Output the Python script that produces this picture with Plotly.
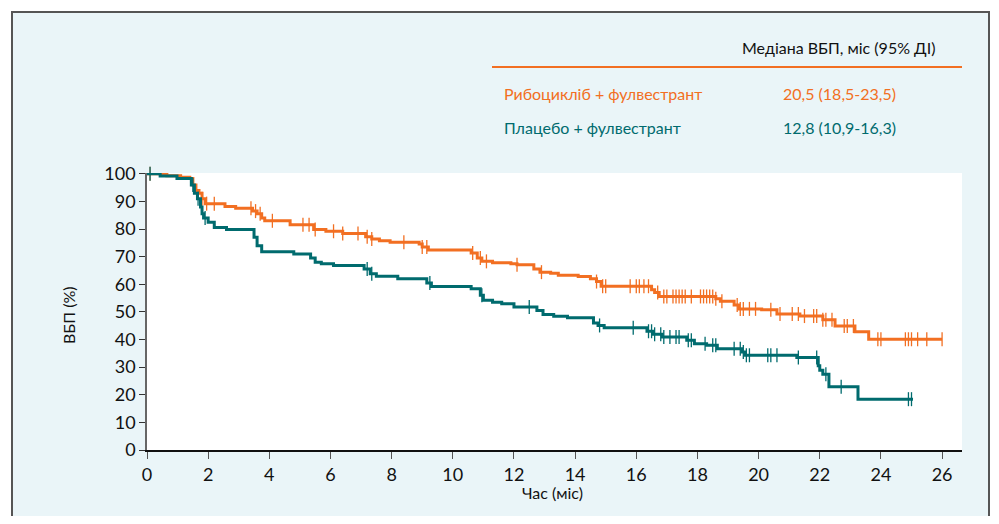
import numpy as np
import plotly.graph_objects as go

# ---------------- data ----------------
ribo_t = [0, 0.65, 1.1, 1.4, 1.5, 1.6, 1.7, 1.8, 1.9, 2.55, 2.9, 3.45, 3.6, 3.75, 3.85,
          4.68, 5.45, 5.85, 6.4, 7.15, 7.35, 7.6, 7.95, 8.9, 9.0, 9.2, 10.6, 10.8, 10.95,
          11.3, 11.9, 12.1, 12.65, 12.85, 13.2, 13.45, 14.1, 14.5, 14.7, 14.85, 16.5, 16.6,
          16.75, 18.6, 18.75, 19.2, 19.35, 20.1, 20.6, 21.35, 22.1, 22.5, 23.15, 23.6, 26.0]
ribo_s = [100, 99.3, 98.8, 98.3, 96, 94, 93, 91, 89.2, 88.2, 87.5, 86.5, 85.5, 84, 83.0,
          81.6, 79.8, 79.2, 78.4, 77.2, 76.4, 75.8, 75.2, 74.6, 73.5, 72.4, 71.3, 69.5, 68.3,
          67.8, 67.4, 67.1, 65.5, 64.4, 64.0, 63.3, 62.8, 62.0, 61.0, 59.3, 58.0, 57.0,
          55.6, 54.8, 53.9, 52.5, 51.1, 50.8, 49.2, 48.5, 47.2, 44.9, 42.8, 40.1, 40.1]
ribo_cens = [0.1, 1.8, 1.95, 2.2, 3.4, 3.55, 3.7, 4.1, 5.1, 5.3, 5.5, 6.1, 6.4, 6.9, 7.2, 7.35,
             8.4, 9.0, 9.15, 10.65, 10.9, 11.1, 12.1, 12.9, 14.7, 14.9, 15.0, 15.8, 16.0,
             16.1, 16.25, 16.4, 16.7, 16.9, 17.0, 17.2, 17.3, 17.4, 17.5, 17.6, 17.8, 18.1,
             18.2, 18.3, 18.4, 18.5, 18.6, 18.8, 19.3, 19.4, 19.5, 19.7, 19.9, 20.4, 20.7,
             21.1, 21.3, 21.5, 21.8, 21.9, 22.1, 22.2, 22.4, 22.8, 22.9, 23.1, 23.9, 24.0,
             24.8, 24.9, 25.0, 25.2, 25.5, 26.0]

plac_t = [0, 0.43, 0.98, 1.45, 1.55, 1.65, 1.75, 1.8, 1.85, 2.0, 2.2, 2.6, 3.5, 3.6, 3.75,
          4.8, 5.35, 5.5, 5.7, 6.1, 7.1, 7.3, 7.5, 8.2, 9.15, 9.3, 10.6, 10.9, 11.0, 11.3,
          11.6, 12.0, 12.75, 12.95, 13.3, 13.75, 14.6, 14.75, 14.95, 16.35, 16.55, 16.85,
          17.65, 17.9, 18.3, 18.65, 19.45, 19.55, 21.25, 21.95, 22.0, 22.1, 22.3, 23.25, 25.05]
plac_s = [100, 99.2, 98.3, 96, 93, 91, 88, 85.5, 84, 82.5, 80.6, 79.8, 77, 74, 71.8,
          71.0, 69.5, 68, 67.4, 66.8, 65.5, 63.8, 62.9, 62.0, 60.5, 59.2, 58.4, 56, 54.2, 53.5,
          53.0, 51.8, 50.5, 49.1, 48.4, 47.9, 46, 45.1, 44.3, 43, 41.9, 40.9,
          39.7, 38.5, 37.9, 36.7, 35.5, 34.3, 33.5, 30.5, 28.9, 27.4, 22.9, 18.4, 18.4]
plac_cens = [0.1, 1.5, 1.67, 1.9, 7.2, 7.35, 9.25, 10.95, 12.5, 14.8, 15.9, 16.4, 16.5,
             16.6, 16.8, 16.9, 17.1, 17.3, 17.4, 17.7, 17.8, 18.25, 18.5, 18.6, 19.2, 19.4,
             19.5, 19.6, 19.7, 20.3, 20.4, 20.6, 21.3, 21.9, 22.2, 22.7, 24.9, 25.0]

x_ticks = list(range(0, 27, 2))
y_ticks = list(range(0, 101, 10))

header = "Медіана ВБП, міс (95% ДІ)"
names = ["Рибоцикліб + фулвестрант", "Плацебо + фулвестрант"]
medians = ["20,5 (18,5-23,5)", "12,8 (10,9-16,3)"]
x_title = "Час (міс)"
y_title = "ВБП (%)"

ORANGE = "#F26F22"
TEAL = "#006B6E"
FONT = "Lato"


def step_at(ts, ss, x):
    idx = np.searchsorted(np.array(ts), np.array(x), side="right") - 1
    return [ss[i] for i in idx]


fig = go.Figure()
for t, s, c, col in [(ribo_t, ribo_s, ribo_cens, ORANGE), (plac_t, plac_s, plac_cens, TEAL)]:
    fig.add_trace(go.Scatter(x=t, y=s, mode="lines", line=dict(color=col, width=3, shape="hv"),
                             showlegend=False, hoverinfo="skip"))
    fig.add_trace(go.Scatter(x=c, y=step_at(t, s, c), mode="markers",
                             marker=dict(symbol="line-ns-open", size=10, color=col,
                                         line=dict(color=col, width=1.3)),
                             showlegend=False, cliponaxis=False, hoverinfo="skip"))

OFF = 8  # page body margin
L, R, T, B = 147 - OFF, 962 - OFF, 173 - OFF, 450 - OFF
W, H = 999 - 2 * OFF, 524 - 2 * OFF


def px(x):
    return (x - OFF - L) / (R - L)


def py(y):
    return (B - (y - OFF)) / (B - T)


shapes = [
    dict(type="rect", xref="paper", yref="paper", x0=px(12), x1=px(989), y0=py(560), y1=py(12),
         fillcolor="#EAF5F8", line=dict(color="#555555", width=2), layer="below"),
    dict(type="rect", xref="paper", yref="paper", x0=0, x1=1, y0=0, y1=1,
         fillcolor="white", line=dict(width=0), layer="below"),
    dict(type="line", xref="paper", yref="paper", x0=px(492), x1=px(962), y0=py(67), y1=py(67),
         line=dict(color=ORANGE, width=2)),
]

annotations = [
    dict(text=header, x=px(838), y=py(47), xref="paper", yref="paper", showarrow=False,
         font=dict(size=16, color="#111111", family=FONT), xanchor="center", yanchor="middle"),
    dict(text=names[0], x=px(502), y=py(94), xref="paper", yref="paper", showarrow=False,
         font=dict(size=16, color=ORANGE, family=FONT), xanchor="left", yanchor="middle"),
    dict(text=names[1], x=px(502), y=py(127), xref="paper", yref="paper", showarrow=False,
         font=dict(size=16, color=TEAL, family=FONT), xanchor="left", yanchor="middle"),
    dict(text=medians[0], x=px(839), y=py(94), xref="paper", yref="paper", showarrow=False,
         font=dict(size=16, color=ORANGE, family=FONT), xanchor="center", yanchor="middle"),
    dict(text=medians[1], x=px(839), y=py(127), xref="paper", yref="paper", showarrow=False,
         font=dict(size=16, color=TEAL, family=FONT), xanchor="center", yanchor="middle"),
    dict(text=x_title, x=px(552), y=py(492), xref="paper", yref="paper", showarrow=False,
         font=dict(size=16, color="#111111", family=FONT), xanchor="center", yanchor="middle"),
    dict(text=y_title, x=px(68), y=py(315), xref="paper", yref="paper", showarrow=False,
         textangle=-90, font=dict(size=16, color="#111111", family=FONT),
         xanchor="center", yanchor="middle"),
]

fig.update_layout(
    width=W, height=H,
    margin=dict(l=L, r=W - R, t=T, b=H - B, pad=0),
    paper_bgcolor="white", plot_bgcolor="white",
    shapes=shapes, annotations=annotations,
    xaxis=dict(range=[0, (R - L) / 30.58], tickvals=x_ticks, ticktext=[str(v) for v in x_ticks],
               showgrid=False, zeroline=False, showline=True, linecolor="#111111", linewidth=2,
               ticks="outside", ticklen=7, tickcolor="#555555", tickwidth=1.3,
               tickfont=dict(size=18, color="#111111", family=FONT)),
    yaxis=dict(range=[0, 100.3], tickvals=y_ticks, ticktext=[str(v) for v in y_ticks],
               showgrid=False, zeroline=False, showline=True, linecolor="#666666", linewidth=1.5,
               ticks="outside", ticklen=6, tickcolor="#333333", tickwidth=1.3,
               tickfont=dict(size=18, color="#111111", family=FONT)),
)

fig.write_html("out.html")
